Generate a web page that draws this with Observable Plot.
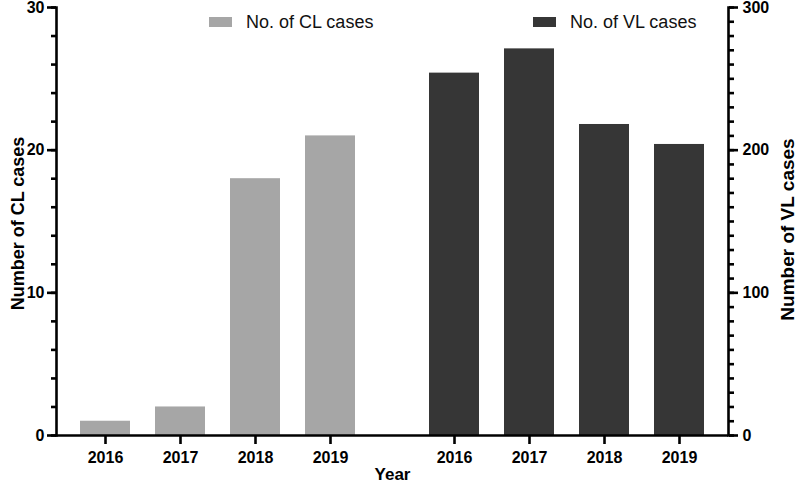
<!DOCTYPE html>
<html><head><meta charset="utf-8">
<script src="https://cdn.jsdelivr.net/npm/d3@7"></script>
<script src="https://cdn.jsdelivr.net/npm/@observablehq/plot@0.6"></script>
<style>
body{margin:0;background:#fff;}
#wrap{position:relative;width:797px;height:484px;font-family:"Liberation Sans",Arial,sans-serif;}
.sw{position:absolute;top:17px;width:23px;height:10px;}
.lt{position:absolute;top:12px;font-size:18px;color:#111;white-space:nowrap;}
</style></head><body><div id="wrap"></div>
<script>
// ---- data ----
const years = ["2016", "2017", "2018", "2019"];
const groups = ["CL", "VL"];
const clCases = [1, 2, 18, 21];
const vlCases = [254, 271, 218, 204];
const leftTicks = [0, 10, 20, 30];
const rightTicks = [0, 100, 200, 300];
const legendLabels = ["No. of CL cases", "No. of VL cases"];
const colors = ["#a6a6a6", "#363636"];

const vlPerCl = rightTicks[rightTicks.length - 1] / leftTicks[leftTicks.length - 1];

const rows = [
  ...years.map((y, i) => ({group: "CL", year: y, value: clCases[i]})),
  ...years.map((y, i) => ({group: "VL", year: y, value: vlCases[i]}))
];

// ---- layout ----
const W = 797, H = 484, mL = 55, mR = 69, mT = 7, mB = 49;
const fxPadInner = 0.0745;
const innerW = W - mL - mR;
const fxStep = innerW / (2 - fxPadInner);
const fxGap = fxStep * fxPadInner;
const sw = 2.6;

const chart = Plot.plot({
  width: W, height: H,
  marginLeft: mL, marginRight: mR, marginTop: mT, marginBottom: mB,
  style: {fontFamily: "Liberation Sans, Arial, sans-serif", fontSize: "16px", fontWeight: "bold", color: "#000", background: "#fff"},
  fx: {domain: groups, paddingInner: fxPadInner, paddingOuter: 0, axis: null},
  x: {domain: years, paddingInner: 1 / 3, paddingOuter: 0.32, align: 0.5},
  y: {domain: [0, 30]},
  color: {domain: groups, range: colors},
  marks: [
    Plot.barY(rows, {
      fx: "group", x: "year",
      y: d => d.group === "CL" ? d.value : d.value / vlPerCl,
      fill: "group"
    }),
    // axis lines
    Plot.ruleY([0], {facetAnchor: "left", stroke: "#000", strokeWidth: sw, insetRight: -fxGap}),
    Plot.ruleY([0], {facetAnchor: "right", stroke: "#000", strokeWidth: sw}),
    Plot.frame({anchor: "left", facetAnchor: "left", stroke: "#000", strokeWidth: sw}),
    Plot.frame({anchor: "right", facetAnchor: "right", stroke: "#000", strokeWidth: sw}),
    // left axis
    Plot.axisY({anchor: "left", ticks: leftTicks, tickSize: 9, tickPadding: 3, strokeWidth: sw, label: null}),
    Plot.axisY({anchor: "left", ticks: d3.range(0, 31, 2), tickSize: 5, tickFormat: () => "", strokeWidth: sw, label: null}),
    // right axis
    Plot.axisY({anchor: "right", ticks: rightTicks.map(t => t / vlPerCl), tickFormat: d => String(d * vlPerCl), tickSize: 9, tickPadding: 5, strokeWidth: sw, label: null}),
    Plot.axisY({anchor: "right", ticks: d3.range(0, 31, 1), tickSize: 5, tickFormat: () => "", strokeWidth: sw, label: null}),
    // x axis
    Plot.axisX({tickSize: 9, tickPadding: 7, strokeWidth: sw, label: null}),
    // titles
    Plot.text(["Number of CL cases"], {frameAnchor: "left", textAnchor: "middle", lineAnchor: "middle", rotate: -90, dx: -38, dy: 2, facetAnchor: "left", fontSize: 18, fontWeight: "bold", fill: "#000"}),
    Plot.text(["Number of VL cases"], {frameAnchor: "right", textAnchor: "middle", lineAnchor: "middle", rotate: -90, dx: 59, dy: 8, facetAnchor: "right", fontSize: 19, fontWeight: "bold", fill: "#000"}),
    Plot.text(["Year"], {frameAnchor: "bottom-right", textAnchor: "middle", lineAnchor: "middle", facetAnchor: "left", dx: fxGap / 2, dy: 39, fontSize: 17, fontWeight: "bold", fill: "#000"})
  ]
});

const wrap = document.getElementById("wrap");
wrap.appendChild(chart);

// legend
const legPos = [{sw: 209, tx: 246}, {sw: 533, tx: 570}];
legendLabels.forEach((lab, i) => {
  const s = document.createElement("div");
  s.className = "sw";
  s.style.left = legPos[i].sw + "px";
  s.style.background = colors[i];
  wrap.appendChild(s);
  const t = document.createElement("div");
  t.className = "lt";
  t.style.left = legPos[i].tx + "px";
  t.textContent = lab;
  wrap.appendChild(t);
});
</script>
</body></html>
